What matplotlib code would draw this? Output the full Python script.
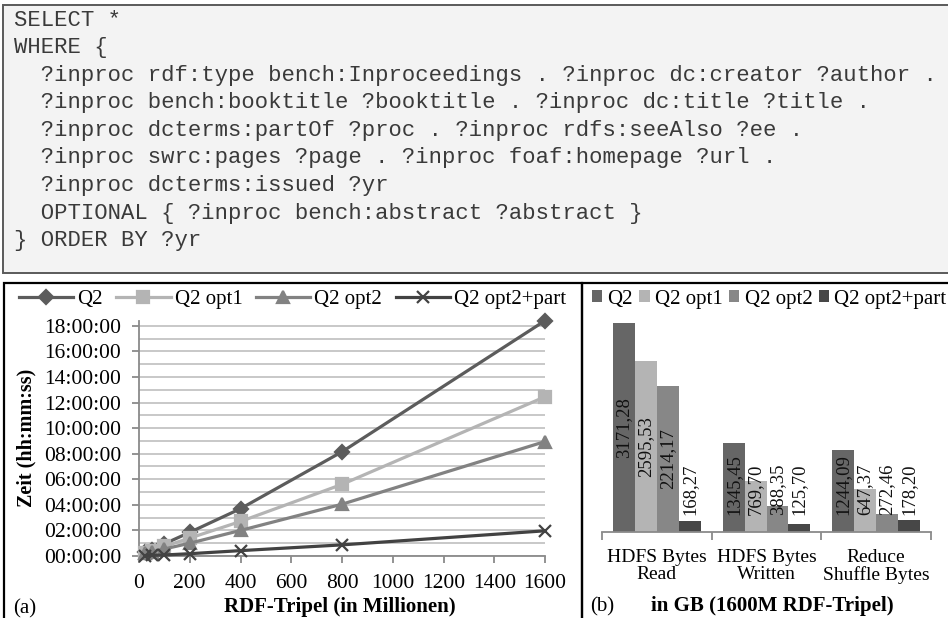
import matplotlib
matplotlib.use("Agg")
import matplotlib.pyplot as plt
from matplotlib.lines import Line2D
from matplotlib.patches import Rectangle
from matplotlib.ticker import FixedLocator, FuncFormatter, MultipleLocator

plt.rcParams["font.family"] = ["Liberation Serif", "DejaVu Serif"]

W, H = 948, 618

# --- query text ---
query_lines = [
    "SELECT *",
    "WHERE {",
    "  ?inproc rdf:type bench:Inproceedings . ?inproc dc:creator ?author .",
    "  ?inproc bench:booktitle ?booktitle . ?inproc dc:title ?title .",
    "  ?inproc dcterms:partOf ?proc . ?inproc rdfs:seeAlso ?ee .",
    "  ?inproc swrc:pages ?page . ?inproc foaf:homepage ?url .",
    "  ?inproc dcterms:issued ?yr",
    "  OPTIONAL { ?inproc bench:abstract ?abstract }",
    "} ORDER BY ?yr",
]

# --- (a) runtime in hours per data size ---
series = ["Q2", "Q2 opt1", "Q2 opt2", "Q2 opt2+part"]
triples = [25, 50, 100, 200, 400, 800, 1600]
q2_hours = [0.30, 0.50, 0.95, 1.85, 3.70, 8.15, 18.40]
opt1_hours = [0.25, 0.40, 0.75, 1.40, 2.70, 5.60, 12.45]
opt2_hours = [0.20, 0.30, 0.55, 1.00, 2.00, 4.05, 8.95]
part_hours = [0.03, 0.05, 0.08, 0.18, 0.42, 0.87, 1.97]

# --- (b) GB per counter ---
counters = ["HDFS Bytes\nRead", "HDFS Bytes\nWritten", "Reduce\nShuffle Bytes"]
q2_gb = [3171.28, 1345.45, 1244.09]
opt1_gb = [2595.53, 769.70, 647.37]
opt2_gb = [2214.17, 388.35, 272.46]
part_gb = [168.27, 125.70, 178.20]

line_colors = ["#5c5c5c", "#b4b4b4", "#828282", "#424242"]
bar_colors = ["#666666", "#b4b4b4", "#878787", "#474747"]
markers = ["D", "s", "^", "x"]
msizes = [7, 8, 8, 9]


def px_rect(x0, y0, x1, y1):
    return [x0 / W, 1 - y1 / H, (x1 - x0) / W, (y1 - y0) / H]


def fx(x):
    return x / W


def fy(y):
    return 1 - y / H


fig = plt.figure(figsize=(W / 100, H / 100), dpi=100)

# query box
fig.patches.append(Rectangle((fx(3), fy(273)), fx(950) - fx(3), fy(5) - fy(273),
                             transform=fig.transFigure, facecolor="#f3f3f3",
                             edgecolor="#5a5a5a", lw=1.4, zorder=0))
for i, line in enumerate(query_lines):
    fig.text(fx(14), fy(20 + i * 27.6), line, family="Liberation Mono", fontsize=16,
             color="#3a3a3a", va="center", ha="left")

# panel frames
for x0, x1 in [(4, 582), (582, 952)]:
    fig.patches.append(Rectangle((fx(x0), fy(625)), fx(x1) - fx(x0), fy(283) - fy(625),
                                 transform=fig.transFigure, facecolor="none",
                                 edgecolor="black", lw=1.6, zorder=5))

# ---------- (a) line chart ----------
ax = fig.add_axes(px_rect(139, 320.7, 545, 556))
all_hours = [q2_hours, opt1_hours, opt2_hours, part_hours]
handles = []
for name, hrs, c, m, ms in zip(series, all_hours, line_colors, markers, msizes):
    ax.plot(triples, hrs, color=c, lw=2.3, marker=m, ms=ms, mew=1.6,
            mec=c, mfc=c, zorder=3, clip_on=False)
    handles.append(Line2D([], [], color=c, lw=2.3, marker=m, ms=ms, mew=1.6, mec=c, mfc=c))

ax.set_xlim(0, 1600)
ax.set_ylim(0, 18.4)
ax.xaxis.set_major_locator(MultipleLocator(200))
ax.yaxis.set_major_locator(FixedLocator(range(0, 19, 2)))
ax.yaxis.set_minor_locator(FixedLocator(range(1, 19, 2)))
ax.yaxis.set_major_formatter(FuncFormatter(lambda v, p: f"{int(v):02d}:00:00"))
ax.grid(True, axis="y", which="both", color="#c4c4c4", lw=1.3)
ax.set_axisbelow(True)
for s in ["top", "right"]:
    ax.spines[s].set_visible(False)
for s in ["left", "bottom"]:
    ax.spines[s].set_color("#8a8a8a")
    ax.spines[s].set_linewidth(1.3)
ax.tick_params(axis="both", which="major", labelsize=15.5, color="#8a8a8a",
               width=1.3, length=5, direction="out")
ax.tick_params(axis="y", which="minor", length=0)
ax.tick_params(axis="y", pad=8)
ax.tick_params(axis="x", pad=8)

fig.legend(handles, series, loc="center left", bbox_to_anchor=(fx(19), fy(299)),
           ncol=4, frameon=False, fontsize=15, handlelength=2.6, handletextpad=0.2,
           columnspacing=0.65, borderpad=0, borderaxespad=0)

fig.text(fx(26), fy(438), "Zeit (hh:mm:ss)", rotation=90, fontsize=14.5,
         fontweight="bold", ha="center", va="center")
fig.text(fx(340), fy(607), "RDF-Tripel (in Millionen)", fontsize=15,
         fontweight="bold", ha="center", va="center")
fig.text(fx(13), fy(609), "(a)", fontsize=15, ha="left", va="center")

# ---------- (b) bar chart ----------
bx = fig.add_axes(px_rect(602, 301, 931, 532))
all_gb = [q2_gb, opt1_gb, opt2_gb, part_gb]
pos = list(range(len(counters)))
width = 0.2
texts = []
for k, (vals, c) in enumerate(zip(all_gb, bar_colors)):
    xs = [p + (k - 1.5) * width for p in pos]
    bx.bar(xs, vals, width=width, color=c, edgecolor="none", label=series[k])
    for x, v in zip(xs, vals):
        t = bx.text(x, v / 2, f"{v:.2f}".replace(".", ","), rotation=90,
                    ha="center", va="center", fontsize=13.5, color="#111111")
        texts.append(t)

bx.set_xlim(-0.5, 2.5)
bx.set_ylim(0, 3500)
bx.set_yticks([])
for s in ["top", "right", "left"]:
    bx.spines[s].set_visible(False)
bx.spines["bottom"].set_color("#8a8a8a")
bx.spines["bottom"].set_linewidth(1.3)
bx.set_xticks([-0.5, 0.5, 1.5, 2.5])
bx.set_xticklabels([])
bx.set_xticks(pos, minor=True)
bx.set_xticklabels(counters, minor=True, fontsize=14, linespacing=1.05)
bx.tick_params(axis="x", which="major", length=6, color="#8a8a8a", width=1.3)
bx.tick_params(axis="x", which="minor", length=0, pad=12)

# keep short-bar labels above the base line
fig.canvas.draw()
base_px = bx.transData.transform((0, 0))[1]
for t in texts:
    bb = t.get_window_extent()
    if bb.y0 < base_px + 17:
        ybase = bx.transData.inverted().transform((0, base_px + 17))[1]
        t.set_y(ybase)
        t.set_va("bottom")

bh, bl = bx.get_legend_handles_labels()
fig.legend(bh, bl, loc="center left", bbox_to_anchor=(fx(592), fy(299)),
           ncol=4, frameon=False, fontsize=15, handlelength=0.5, handleheight=0.5,
           handletextpad=0.25, columnspacing=0.3, borderpad=0, borderaxespad=0)

fig.text(fx(772), fy(606), "in GB (1600M RDF-Tripel)", fontsize=15,
         fontweight="bold", ha="center", va="center")
fig.text(fx(590), fy(607), "(b)", fontsize=15, ha="left", va="center")

fig.savefig("out.png", dpi=100)
